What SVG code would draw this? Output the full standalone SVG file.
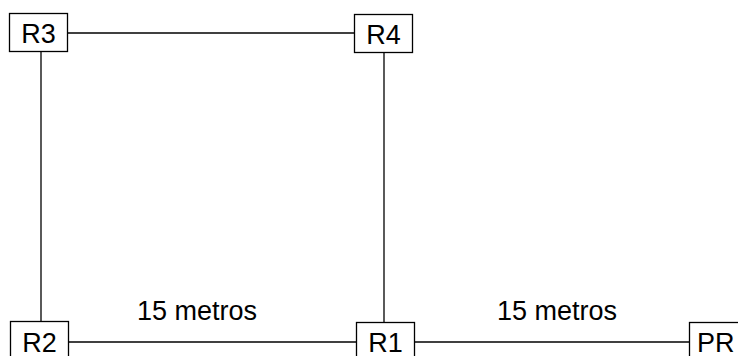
<svg xmlns="http://www.w3.org/2000/svg" width="738" height="356" viewBox="0 0 738 356">
<style>
.box{fill:#fff;stroke:#000;stroke-width:1.3}
.lbl{font-family:"Liberation Sans",Arial,sans-serif;font-size:27px;fill:#000}
.mid{text-anchor:middle}
.ln{stroke:#000;stroke-width:1.3;fill:none}
</style>
<rect width="738" height="356" fill="#fff"/>
<g id="connectors">
<line class="ln" x1="67" y1="33" x2="354" y2="33"/>
<line class="ln" x1="41" y1="51" x2="41" y2="321"/>
<line class="ln" x1="384" y1="52" x2="384" y2="322"/>
<line class="ln" x1="69" y1="342" x2="356" y2="342"/>
<line class="ln" x1="415" y1="342" x2="689" y2="342"/>
<text class="lbl" x="137" y="320">15 metros</text>
<text class="lbl" x="497" y="320">15 metros</text>
</g>
<g id="R3"><rect class="box" x="9.5" y="13.5" width="58" height="38"/><text class="lbl mid" x="38.5" y="43">R3</text></g>
<g id="R4"><rect class="box" x="354.5" y="14.5" width="58" height="38"/><text class="lbl mid" x="383.5" y="44">R4</text></g>
<g id="R2"><rect class="box" x="10.5" y="321.5" width="58" height="40"/><text class="lbl mid" x="39.5" y="352">R2</text></g>
<g id="R1"><rect class="box" x="356.5" y="322.5" width="58" height="40"/><text class="lbl mid" x="385.5" y="352">R1</text></g>
<g id="PR"><rect class="box" x="689.5" y="322.5" width="58" height="40"/><text class="lbl" x="697" y="352">PR</text></g>
</svg>
